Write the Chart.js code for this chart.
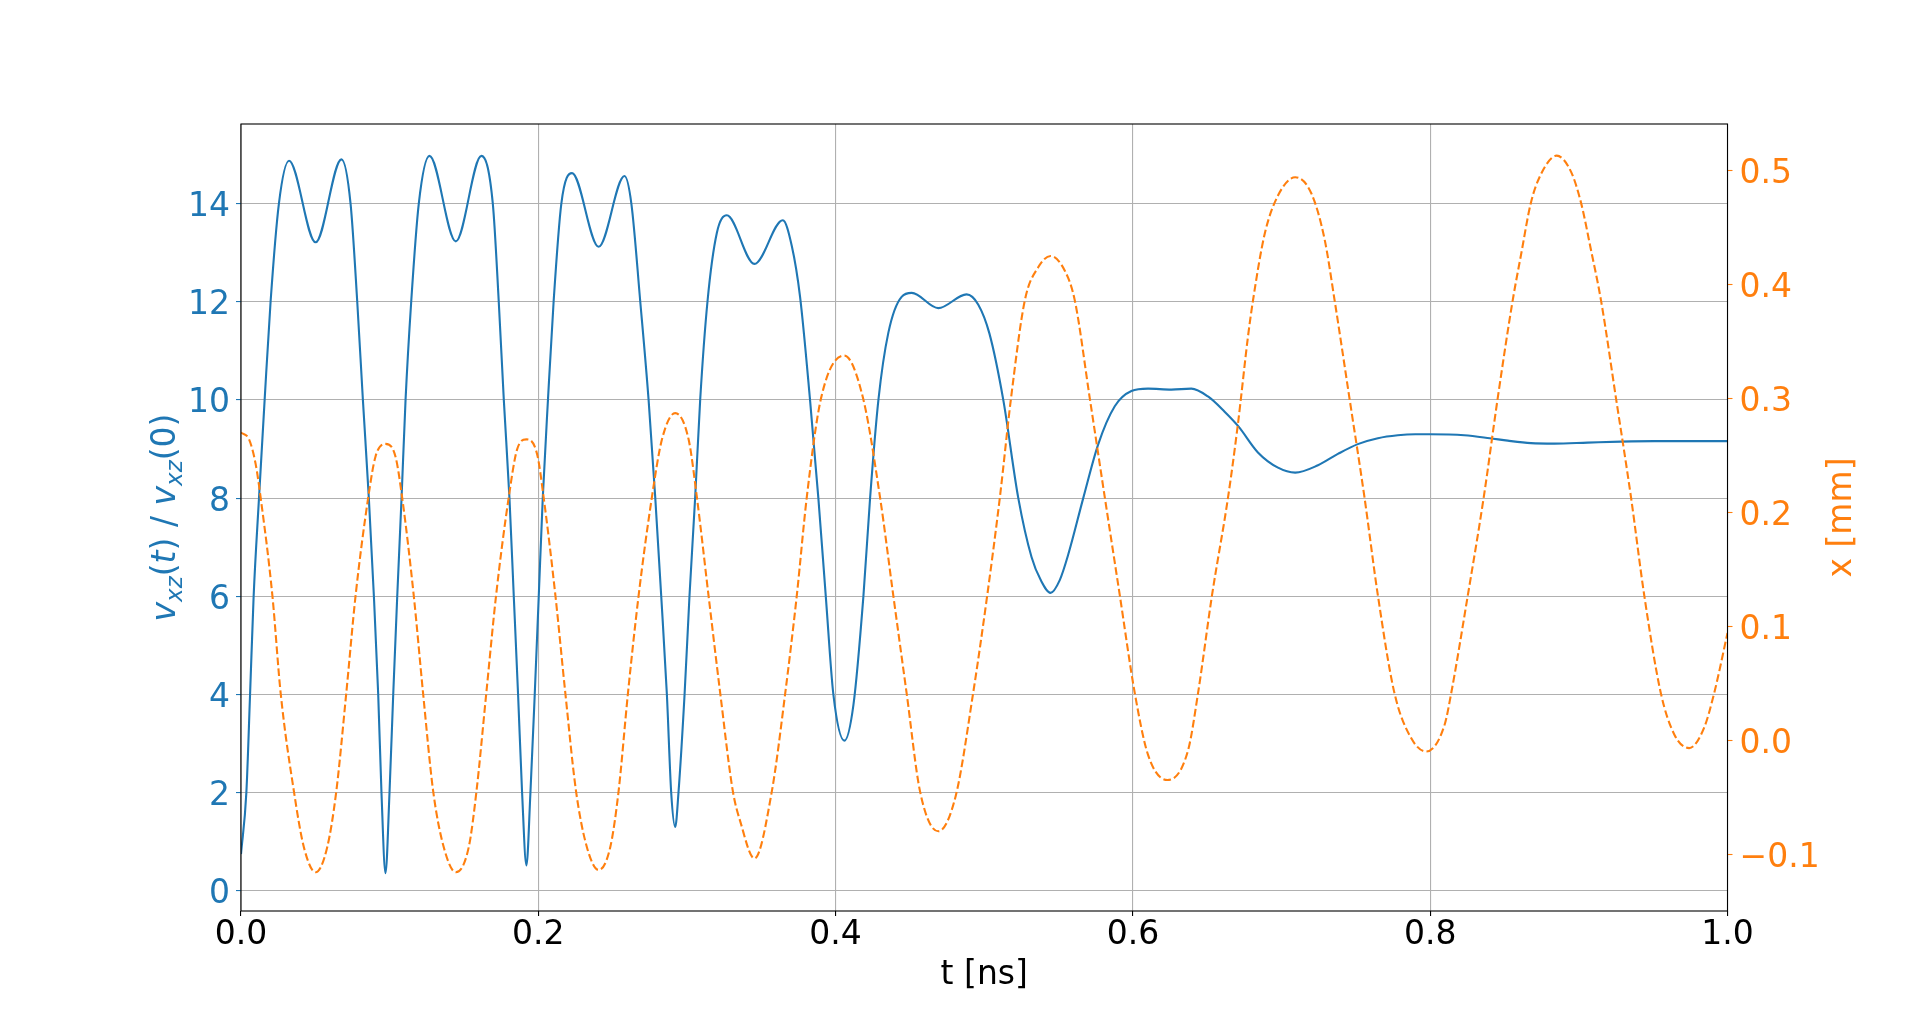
<!DOCTYPE html>
<html><head><meta charset="utf-8">
<script src="https://cdn.jsdelivr.net/npm/chart.js@4/dist/chart.umd.min.js"></script>
<style>html,body{margin:0;padding:0;background:#fff;overflow:hidden}#wrap{width:1920px;height:1022px;position:relative}</style>
</head><body><div id="wrap"><canvas id="c" width="1920" height="1022"></canvas></div>
<script>
// time axis [ns] for the velocity ratio series
const tVel = [0.0000,0.0036,0.0061,0.0085,0.0121,0.0159,0.0199,0.0255,0.0323,
0.0502,0.0676,0.0737,0.0782,0.0820,0.0860,0.0894,0.0923,0.0945,
0.0972,0.0999,0.1024,0.1051,0.1080,0.1107,0.1145,0.1196,0.1268,
0.1445,0.1617,0.1694,0.1734,0.1768,0.1806,0.1835,0.1864,0.1891,
0.1920,0.1947,0.1976,0.2003,0.2030,0.2065,0.2103,0.2155,0.2227,
0.2406,0.2580,0.2626,0.2686,0.2742,0.2787,0.2827,0.2865,0.2894,
0.2921,0.2943,0.2984,0.3017,0.3055,0.3089,0.3138,0.3201,0.3268,
0.3454,0.3645,0.3705,0.3761,0.3828,0.3884,0.3934,0.3985,0.4059,
0.4120,0.4187,0.4232,0.4288,0.4355,0.4444,0.4512,0.4691,0.4881,0.4960,
0.5035,0.5128,0.5229,0.5318,0.5380,0.5446,0.5508,0.5565,0.5666,0.5766,0.5878,0.5990,
0.6102,0.6259,0.6393,0.6505,0.6617,0.6710,0.6841,0.6976,0.7092,0.7245,
0.7379,0.7513,0.7648,0.7782,0.7900,0.7999,0.8230,0.8401,0.8522,0.8678,0.8835,
0.9059,0.9283,0.9507,1.0000];
// v_xz(t) / v_xz(0)
const vRatio = [0.75,2,4,6,8,10,12,14,14.87,
13.21,14.90,14,12,10,8,6,4,2,
0.36,2,4,6,8,10,12,14,14.97,
13.23,14.97,14,12,10,8,6,4,2,
0.52,2,4,6,8,10,12,14,14.62,
13.12,14.56,14,12,10,8,6,4,2,
1.30,2,4,6,8,10,12,13.4,13.76,
12.77,13.66,13.14,12.10,10,8,6,4,3.06,
3.79,6,8,10,11.37,12.10,12.18,11.87,12.15,11.94,
11.35,10,8,6.80,6.33,6.07,6.33,6.85,8,9.09,9.87,10.18,
10.23,10.21,10.23,10.07,9.76,9.46,8.93,8.62,8.52,8.67,
8.90,9.10,9.22,9.28,9.30,9.30,9.28,9.22,9.17,9.12,9.11,
9.13,9.15,9.16,9.16];
// time axis [ns] for the position series
const tPos = [0.0000,0.0054,0.0099,0.0132,0.0211,0.0267,0.0356,0.0423,0.0502,0.0580,
0.0641,0.0708,0.0771,0.0856,0.0905,0.0972,0.1039,0.1084,0.1162,0.1225,
0.1293,0.1364,0.1445,0.1532,0.1584,0.1650,0.1716,0.1801,0.1857,0.1920,
0.1992,0.2036,0.2115,0.2182,0.2254,0.2327,0.2406,0.2484,0.2540,0.2603,
0.2675,0.2764,0.2832,0.2921,0.3011,0.3067,0.3145,0.3224,0.3309,0.3360,
0.3454,0.3571,0.3661,0.3739,0.3806,0.3902,0.4059,0.4185,
0.4299,0.4388,0.4478,0.4568,0.4691,0.4808,0.4925,0.5020,0.5105,0.5180,
0.5273,0.5363,0.5446,0.5542,0.5609,0.5710,0.5811,0.5912,0.6013,0.6102,
0.6232,0.6371,0.6438,0.6532,0.6640,0.6707,0.6774,0.6808,0.6886,0.6976,
0.7092,0.7200,0.7289,0.7357,0.7457,0.7558,0.7648,0.7760,0.7871,0.7972,
0.8096,0.8141,0.8253,0.8360,0.8454,0.8555,0.8611,0.8678,0.8746,0.8851,
0.8947,0.9014,0.9082,0.9149,0.9250,0.9351,0.9440,0.9552,0.9642,0.9742,
0.9843,0.9910,1.0000];
// x [mm]
const xPos = [0.270,0.264,0.242,0.213,0.127,0.041,-0.045,-0.094,-0.116,-0.094,
-0.045,0.041,0.127,0.213,0.249,0.260,0.249,0.213,0.127,0.041,
-0.045,-0.094,-0.116,-0.094,-0.045,0.041,0.127,0.213,0.255,0.264,
0.251,0.213,0.127,0.041,-0.045,-0.094,-0.114,-0.094,-0.045,0.041,
0.127,0.213,0.264,0.287,0.264,0.213,0.127,0.041,-0.045,-0.072,
-0.104,-0.045,0.041,0.127,0.213,0.300,0.3375,0.300,
0.213,0.127,0.041,-0.045,-0.080,-0.049,0.041,0.127,0.213,0.300,
0.386,0.415,0.425,0.412,0.386,0.300,0.213,0.127,0.041,-0.013,
-0.035,-0.009,0.041,0.127,0.213,0.278,0.354,0.386,0.444,0.478,
0.494,0.480,0.440,0.386,0.300,0.213,0.127,0.041,0.002,-0.010,
0.013,0.041,0.127,0.213,0.300,0.386,0.426,0.472,0.497,0.513,
0.499,0.472,0.430,0.386,0.300,0.213,0.127,0.041,0.005,-0.007,
0.011,0.041,0.094];

const xTicks = [0, 0.2, 0.4, 0.6, 0.8, 1.0];
const yLeftTicks = [0, 2, 4, 6, 8, 10, 12, 14];
const yRightTicks = [-0.1, 0, 0.1, 0.2, 0.3, 0.4, 0.5];
const xLabel = 't [ns]';
const yLeftLabelParts = [
  {t:'v', s:'i'}, {t:'xz', s:'sub'}, {t:'(', s:'n'}, {t:'t', s:'i'}, {t:')', s:'n'},
  {t:' / ', s:'n'},
  {t:'v', s:'i'}, {t:'xz', s:'sub'}, {t:'(0)', s:'n'}
];
const yRightLabel = 'x [mm]';

const BLUE = '#1f77b4', ORANGE = '#ff7f0e';
const FONT = 'DejaVu Sans';
const FS = 33;

function fontFor(s){
  if (s === 'i') return 'italic ' + FS + 'px "' + FONT + '"';
  if (s === 'sub') return 'italic ' + Math.round(FS*0.7) + 'px "' + FONT + '"';
  return FS + 'px "' + FONT + '"';
}

const decor = {
  id: 'decor',
  afterDatasetsDraw(chart){
    const {ctx, chartArea: a} = chart;
    ctx.save();
    ctx.strokeStyle = '#000';
    ctx.lineWidth = 1.1;
    ctx.strokeRect(a.left, a.top, a.right - a.left, a.bottom - a.top);
    ctx.restore();
  },
  afterDraw(chart){
    const ctx = chart.ctx;
    const a = chart.chartArea;
    const cy = (a.top + a.bottom) / 2;
    ctx.save();
    ctx.fillStyle = BLUE;
    ctx.textBaseline = 'alphabetic';
    let w = 0;
    for (const p of yLeftLabelParts){ ctx.font = fontFor(p.s); w += ctx.measureText(p.t).width; }
    ctx.translate(175, cy);
    ctx.rotate(-Math.PI/2);
    let x = -w/2;
    for (const p of yLeftLabelParts){
      ctx.font = fontFor(p.s);
      ctx.fillText(p.t, x, p.s === 'sub' ? 7 : 0);
      x += ctx.measureText(p.t).width;
    }
    ctx.restore();
    ctx.save();
    ctx.fillStyle = ORANGE;
    ctx.font = FS + 'px "' + FONT + '"';
    ctx.textAlign = 'center';
    ctx.textBaseline = 'alphabetic';
    ctx.translate(1851, cy);
    ctx.rotate(-Math.PI/2);
    ctx.fillText(yRightLabel, 0, 0);
    ctx.restore();
  }
};

const fixTicks = (arr) => (scale) => { scale.ticks = arr.map(v => ({value: v})); };

new Chart(document.getElementById('c'), {
  type: 'line',
  data: {
    datasets: [
      {
        label: 'x',
        data: tPos.map((t, i) => ({x: t, y: xPos[i]})),
        yAxisID: 'y2',
        borderColor: ORANGE,
        borderWidth: 2.1,
        borderDash: [7.7, 3.3],
        pointRadius: 0,
        cubicInterpolationMode: 'monotone',
        order: 0
      },
      {
        label: 'v',
        data: tVel.map((t, i) => ({x: t, y: vRatio[i]})),
        yAxisID: 'y',
        borderColor: BLUE,
        borderWidth: 2.1,
        pointRadius: 0,
        cubicInterpolationMode: 'monotone',
        order: 1
      }
    ]
  },
  options: {
    responsive: false,
    animation: false,
    events: [],
    layout: { padding: { top: 124, left: 0, right: 0, bottom: 0 } },
    plugins: { legend: { display: false }, tooltip: { enabled: false } },
    font: { family: FONT },
    scales: {
      x: {
        type: 'linear', position: 'bottom', min: 0, max: 1,
        afterBuildTicks: fixTicks(xTicks),
        afterFit: (s) => { s.height = 111; },
        grid: { color: '#b0b0b0', lineWidth: 1.1, tickColor: '#000', tickLength: 5, tickWidth: 1.1 },
        border: { display: false },
        ticks: { color: '#000', font: { family: FONT, size: FS }, padding: 0, maxRotation: 0,
                 callback: (v) => Number(v).toFixed(1) },
        title: { display: true, text: xLabel, color: '#000', font: { family: FONT, size: FS },
                 padding: { top: 0, bottom: 27 } }
      },
      y: {
        type: 'linear', position: 'left', min: -0.41, max: 15.62,
        afterBuildTicks: fixTicks(yLeftTicks),
        afterFit: (s) => { s.width = 241; },
        grid: { color: '#b0b0b0', lineWidth: 1.1, tickColor: BLUE, tickLength: 5, tickWidth: 1.1 },
        border: { display: false },
        ticks: { color: BLUE, font: { family: FONT, size: FS }, padding: 6, labelOffset: 4,
                 callback: (v) => String(Math.round(v)) }
      },
      y2: {
        type: 'linear', position: 'right', min: -0.150, max: 0.5408,
        afterBuildTicks: fixTicks(yRightTicks),
        afterFit: (s) => { s.width = 192.5; },
        grid: { drawOnChartArea: false, color: ORANGE, tickColor: ORANGE, tickLength: 5, tickWidth: 1.1 },
        border: { display: false },
        ticks: { color: ORANGE, font: { family: FONT, size: FS }, padding: 7, labelOffset: 4,
                 callback: (v) => { const s = Math.abs(v).toFixed(1); return v < -1e-9 ? '\u2212' + s : s; } }
      }
    }
  },
  plugins: [decor]
});
</script>
</body></html>
